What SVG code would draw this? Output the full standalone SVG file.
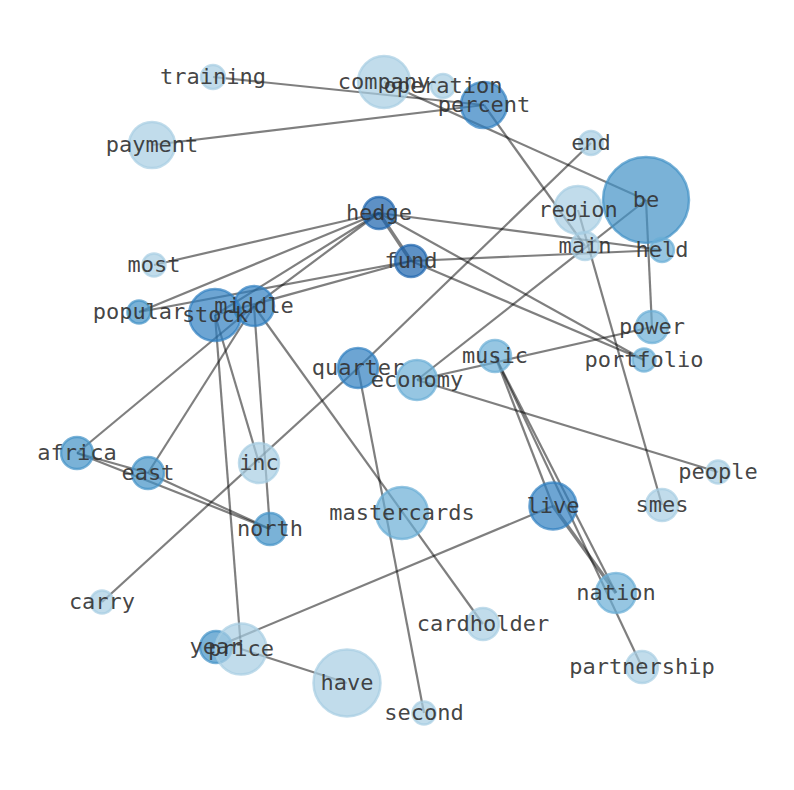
<svg xmlns="http://www.w3.org/2000/svg" width="794" height="790" viewBox="0 0 794 790">
<style>
.e{stroke:#000;stroke-opacity:0.5;stroke-width:2.2;fill:none}
.e2{stroke:#000;stroke-opacity:0.5;stroke-width:3.6;fill:none}
circle{stroke-width:2.5;fill-opacity:0.7;stroke-opacity:0.7}
.c1{fill:#a6cde3;stroke:#a6cde3}
.c2{fill:#6aaed6;stroke:#6aaed6}
.c3{fill:#4292c6;stroke:#4292c6}
.c4{fill:#2f7fc0;stroke:#2f7fc0}
.c5{fill:#1a62ad;stroke:#1a62ad}
text{font-family:"DejaVu Sans Mono","Liberation Mono",monospace;font-size:22px;fill:#333;fill-opacity:0.92;text-anchor:middle}
</style>
<rect width="794" height="790" fill="#fff"/>
<g id="edges">
<line class="e" x1="213" y1="77" x2="484" y2="105"/>
<line class="e" x1="384" y1="82" x2="646" y2="200"/>
<line class="e" x1="152" y1="145" x2="484" y2="105"/>
<line class="e" x1="484" y1="105" x2="585" y2="246"/>
<line class="e" x1="646" y1="200" x2="417" y2="380"/>
<line class="e" x1="646" y1="200" x2="652" y2="327"/>
<line class="e" x1="578" y1="210" x2="662" y2="505"/>
<line class="e" x1="379" y1="213" x2="662" y2="250"/>
<line class="e" x1="411" y1="261" x2="662" y2="250"/>
<line class="e2" x1="379" y1="213" x2="411" y2="261"/>
<line class="e" x1="379" y1="213" x2="644" y2="360"/>
<line class="e" x1="411" y1="261" x2="644" y2="360"/>
<line class="e" x1="591" y1="143" x2="358" y2="368"/>
<line class="e" x1="358" y1="368" x2="102" y2="602"/>
<line class="e" x1="358" y1="368" x2="424" y2="713"/>
<line class="e" x1="417" y1="380" x2="718" y2="472"/>
<line class="e" x1="417" y1="380" x2="652" y2="327"/>
<line class="e" x1="495" y1="356" x2="553" y2="506"/>
<line class="e" x1="495" y1="356" x2="616" y2="593"/>
<line class="e" x1="495" y1="356" x2="642" y2="667"/>
<line class="e2" x1="553" y1="506" x2="616" y2="593"/>
<line class="e" x1="553" y1="506" x2="216" y2="647"/>
<line class="e" x1="215" y1="315" x2="241" y2="649"/>
<line class="e" x1="241" y1="649" x2="347" y2="683"/>
<line class="e" x1="254" y1="306" x2="483" y2="624"/>
<line class="e" x1="215" y1="315" x2="259" y2="463"/>
<line class="e" x1="254" y1="306" x2="270" y2="529"/>
<line class="e" x1="254" y1="306" x2="148" y2="473"/>
<line class="e" x1="254" y1="306" x2="77" y2="453"/>
<line class="e" x1="77" y1="453" x2="148" y2="473"/>
<line class="e" x1="77" y1="453" x2="270" y2="529"/>
<line class="e" x1="148" y1="473" x2="270" y2="529"/>
<line class="e" x1="379" y1="213" x2="154" y2="265"/>
<line class="e" x1="379" y1="213" x2="139" y2="312"/>
<line class="e" x1="379" y1="213" x2="254" y2="306"/>
<line class="e" x1="379" y1="213" x2="215" y2="315"/>
<line class="e" x1="411" y1="261" x2="139" y2="312"/>
<line class="e" x1="411" y1="261" x2="215" y2="315"/>
</g>
<g id="node-training"><circle class="c1" cx="213" cy="77" r="12"/></g>
<g id="node-company"><circle class="c1" cx="384" cy="82" r="26"/></g>
<g id="node-operation"><circle class="c1" cx="443" cy="86" r="12"/></g>
<g id="node-percent"><circle class="c4" cx="484" cy="105" r="23"/></g>
<g id="node-payment"><circle class="c1" cx="152" cy="145" r="23"/></g>
<g id="node-end"><circle class="c1" cx="591" cy="143" r="12"/></g>
<g id="node-be"><circle class="c3" cx="646" cy="200" r="43"/></g>
<g id="node-region"><circle class="c1" cx="578" cy="210" r="24"/></g>
<g id="node-main"><circle class="c1" cx="585" cy="246" r="14"/></g>
<g id="node-held"><circle class="c2" cx="662" cy="250" r="12"/></g>
<g id="node-hedge"><circle class="c5" cx="379" cy="213" r="16"/></g>
<g id="node-fund"><circle class="c5" cx="411" cy="261" r="16"/></g>
<g id="node-most"><circle class="c1" cx="154" cy="265" r="11.5"/></g>
<g id="node-popular"><circle class="c3" cx="139" cy="312" r="11.5"/></g>
<g id="node-stock"><circle class="c4" cx="215" cy="315" r="26"/></g>
<g id="node-middle"><circle class="c4" cx="254" cy="306" r="20"/></g>
<g id="node-power"><circle class="c2" cx="652" cy="327" r="16"/></g>
<g id="node-portfolio"><circle class="c2" cx="644" cy="360" r="11.5"/></g>
<g id="node-quarter"><circle class="c4" cx="358" cy="368" r="20"/></g>
<g id="node-music"><circle class="c2" cx="495" cy="356" r="16"/></g>
<g id="node-economy"><circle class="c2" cx="417" cy="380" r="20"/></g>
<g id="node-africa"><circle class="c3" cx="77" cy="453" r="16"/></g>
<g id="node-east"><circle class="c3" cx="148" cy="473" r="16"/></g>
<g id="node-inc"><circle class="c1" cx="259" cy="463" r="20"/></g>
<g id="node-people"><circle class="c1" cx="718" cy="472" r="11.5"/></g>
<g id="node-north"><circle class="c3" cx="270" cy="529" r="16"/></g>
<g id="node-mastercards"><circle class="c2" cx="402" cy="513" r="26"/></g>
<g id="node-live"><circle class="c4" cx="553" cy="506" r="23.5"/></g>
<g id="node-smes"><circle class="c1" cx="662" cy="505" r="16"/></g>
<g id="node-carry"><circle class="c1" cx="102" cy="602" r="11.5"/></g>
<g id="node-nation"><circle class="c2" cx="616" cy="593" r="20"/></g>
<g id="node-cardholder"><circle class="c1" cx="483" cy="624" r="16"/></g>
<g id="node-year"><circle class="c3" cx="216" cy="647" r="16"/></g>
<g id="node-price"><circle class="c1" cx="241" cy="649" r="25.5"/></g>
<g id="node-have"><circle class="c1" cx="347" cy="683" r="33.5"/></g>
<g id="node-partnership"><circle class="c1" cx="642" cy="667" r="16"/></g>
<g id="node-second"><circle class="c1" cx="424" cy="713" r="11.5"/></g>
<g id="labels">
<text x="213" y="84">training</text>
<text x="384" y="89">company</text>
<text x="443" y="93">operation</text>
<text x="484" y="112">percent</text>
<text x="152" y="152">payment</text>
<text x="591" y="150">end</text>
<text x="646" y="207">be</text>
<text x="578" y="217">region</text>
<text x="585" y="253">main</text>
<text x="662" y="257">held</text>
<text x="379" y="220">hedge</text>
<text x="411" y="268">fund</text>
<text x="154" y="272">most</text>
<text x="139" y="319">popular</text>
<text x="215" y="322">stock</text>
<text x="254" y="313">middle</text>
<text x="652" y="334">power</text>
<text x="644" y="367">portfolio</text>
<text x="358" y="375">quarter</text>
<text x="495" y="363">music</text>
<text x="417" y="387">economy</text>
<text x="77" y="460">africa</text>
<text x="148" y="480">east</text>
<text x="259" y="470">inc</text>
<text x="718" y="479">people</text>
<text x="270" y="536">north</text>
<text x="402" y="520">mastercards</text>
<text x="553" y="513">live</text>
<text x="662" y="512">smes</text>
<text x="102" y="609">carry</text>
<text x="616" y="600">nation</text>
<text x="483" y="631">cardholder</text>
<text x="216" y="654">year</text>
<text x="241" y="656">price</text>
<text x="347" y="690">have</text>
<text x="642" y="674">partnership</text>
<text x="424" y="720">second</text>
</g>
</svg>
